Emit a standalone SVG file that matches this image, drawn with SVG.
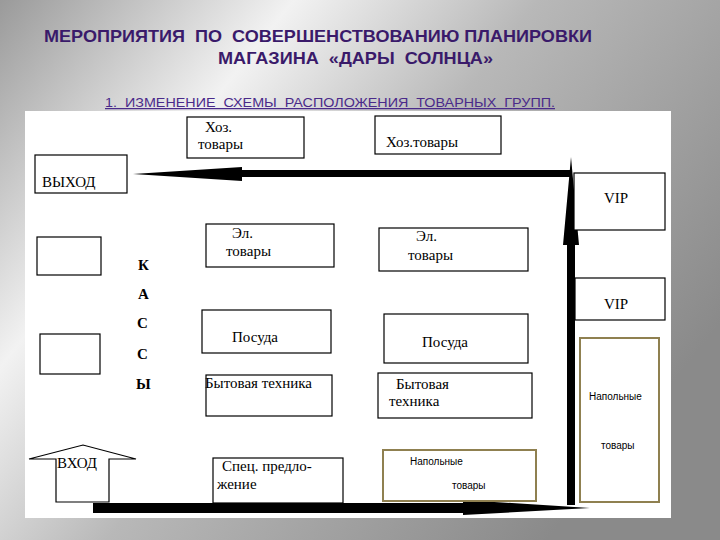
<svg xmlns="http://www.w3.org/2000/svg" width="720" height="540" viewBox="0 0 720 540">
<defs>
<linearGradient id="bg" x1="0" y1="0" x2="1" y2="0.6">
<stop offset="0" stop-color="#9a9a9a"/>
<stop offset="0.3" stop-color="#f2f2f2"/>
<stop offset="0.55" stop-color="#b8b8b8"/>
<stop offset="1" stop-color="#8a8a8a"/>
</linearGradient>
<style>
.b{fill:#fff;stroke:#000;stroke-width:1.2}
.o{fill:#fff;stroke:#8f8050;stroke-width:2}
.t{font-family:"Liberation Serif",serif;font-size:15px;fill:#000}
.s{font-family:"Liberation Sans",sans-serif;font-size:10px;fill:#000}
.k{font-family:"Liberation Serif",serif;font-size:15px;font-weight:bold;fill:#000}
</style>
</defs>
<rect width="720" height="540" fill="url(#bg)"/>
<rect x="25" y="111" width="646" height="407" fill="#fff"/>
<text x="44" y="42" font-family="Liberation Sans,sans-serif" font-size="16.5" font-weight="bold" fill="#3a1a6a" textLength="548" lengthAdjust="spacingAndGlyphs" xml:space="preserve">МЕРОПРИЯТИЯ  ПО  СОВЕРШЕНСТВОВАНИЮ ПЛАНИРОВКИ</text>
<text x="218" y="64" font-family="Liberation Sans,sans-serif" font-size="16.5" font-weight="bold" fill="#3a1a6a" textLength="275" lengthAdjust="spacingAndGlyphs" xml:space="preserve">МАГАЗИНА  «ДАРЫ  СОЛНЦА»</text>
<text x="105" y="107" font-family="Liberation Sans,sans-serif" font-size="12.5" fill="#4a2a8a" text-decoration="underline" textLength="450" lengthAdjust="spacingAndGlyphs" xml:space="preserve">1.  ИЗМЕНЕНИЕ  СХЕМЫ  РАСПОЛОЖЕНИЯ  ТОВАРНЫХ  ГРУПП.</text>
<g id="connectors" fill="#000">
<polygon points="571,170 242,170 242,167 133,174 242,181 242,177 571,177"/>
<polygon points="567,505 567,245 563,245 571,157 579,245 575,245 575,505"/>
<polygon points="93,503 463,503 463,500 590,508 463,515 463,513 93,513"/>
</g>
<g id="hoz1"><rect class="b" x="187" y="117" width="117" height="41"/><text class="t" x="205" y="132">Хоз.</text><text class="t" x="198" y="149">товары</text></g>
<g id="hoz2"><rect class="b" x="375" y="116" width="126" height="38"/><text class="t" x="386" y="147">Хоз.товары</text></g>
<g id="exit"><rect class="b" x="35" y="155" width="92" height="38"/><text class="t" x="42" y="187">ВЫХОД</text></g>
<g id="vip1"><rect class="b" x="574" y="173" width="91" height="57"/><text class="t" x="604" y="203">VIP</text></g>
<g id="vip2"><rect class="b" x="575" y="278" width="90" height="42"/><text class="t" x="604" y="309">VIP</text></g>
<g id="el1"><rect class="b" x="206" y="224" width="128" height="43"/><text class="t" x="232" y="238">Эл.</text><text class="t" x="226" y="256">товары</text></g>
<g id="el2"><rect class="b" x="379" y="228" width="149" height="43"/><text class="t" x="416" y="241">Эл.</text><text class="t" x="408" y="260">товары</text></g>
<g id="kassa"><text class="k" x="138" y="270">К</text><text class="k" x="138" y="299">А</text><text class="k" x="137" y="328">С</text><text class="k" x="137" y="359">С</text><text class="k" x="136" y="389">Ы</text></g>
<g id="box1"><rect class="b" x="37" y="237" width="64" height="38"/></g>
<g id="box2"><rect class="b" x="40" y="334" width="60" height="40"/></g>
<g id="pos1"><rect class="b" x="202" y="310" width="129" height="43"/><text class="t" x="232" y="342">Посуда</text></g>
<g id="pos2"><rect class="b" x="384" y="314" width="144" height="49"/><text class="t" x="422" y="347">Посуда</text></g>
<g id="byt1"><rect class="b" x="206" y="375" width="126" height="41"/><text class="t" x="205" y="388">Бытовая техника</text></g>
<g id="byt2"><rect class="b" x="378" y="373" width="154" height="45"/><text class="t" x="396" y="389">Бытовая</text><text class="t" x="389" y="406">техника</text></g>
<g id="entry"><polygon class="b" points="56,502 56,459 29,459 83,445 136,459 109,459 109,502"/><text class="t" x="57" y="468">ВХОД</text></g>
<g id="spec"><rect class="b" x="213" y="458" width="130" height="45"/><text class="t" x="222" y="471">Спец. предло-</text><text class="t" x="217" y="489">жение</text></g>
<g id="nap1"><rect class="o" x="383" y="450" width="153" height="51"/><text class="s" x="410" y="465">Напольные</text><text class="s" x="452" y="489">товары</text></g>
<g id="nap2"><rect class="o" x="580" y="338" width="79" height="164"/><text class="s" x="589" y="400">Напольные</text><text class="s" x="601" y="449">товары</text></g>
</svg>
